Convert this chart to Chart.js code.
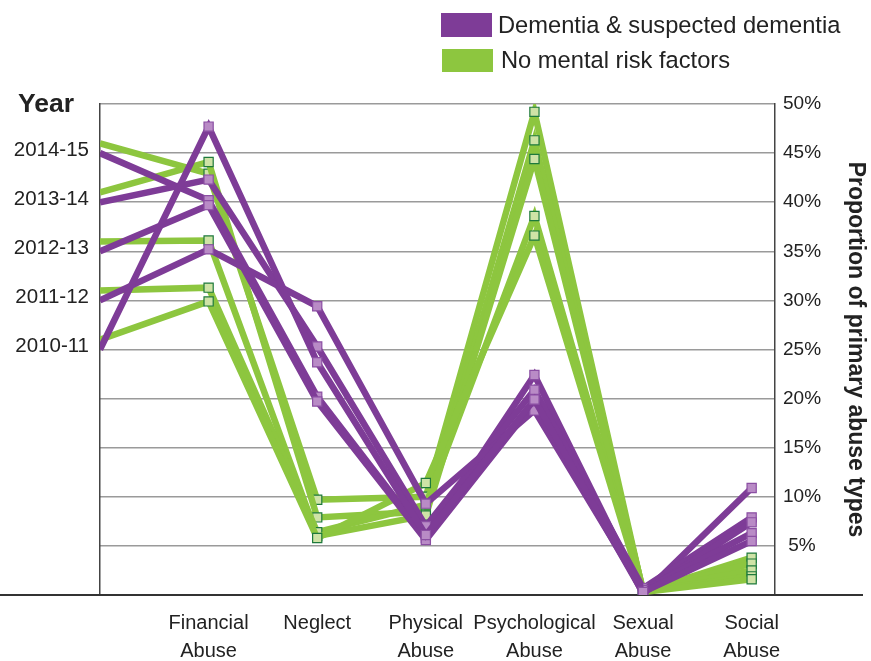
<!DOCTYPE html>
<html>
<head>
<meta charset="utf-8">
<script src="https://cdn.jsdelivr.net/npm/chart.js@4.4.1/dist/chart.umd.min.js"></script>
<style>
  body { margin: 0; background: #fff; font-family: 'Liberation Sans', Arial, sans-serif; }
  #wrap { position: relative; width: 871px; height: 661px; }
  #abuseChart { position: absolute; left: 0; top: 0; }
  .legend-box { position: absolute; width: 51px; height: 24px; }
  .legend-text { position: absolute; font-size: 23.7px; color: #222; line-height: 24px; white-space: nowrap; }
  #yearTitle { position: absolute; left: 18px; top: 88px; font-size: 26.5px; font-weight: bold; color: #222; line-height: 30px; }
</style>
</head>
<body>
<div id="wrap">
  <canvas id="abuseChart" width="871" height="661"></canvas>
  <div class="legend-box" style="left:441px;top:13px;background:#7e3c97;"></div>
  <div class="legend-text" style="left:498px;top:13px;">Dementia &amp; suspected dementia</div>
  <div class="legend-box" style="left:442px;top:49px;height:23px;background:#8dc63f;"></div>
  <div class="legend-text" style="left:501px;top:48px;">No mental risk factors</div>
  <div id="yearTitle">Year</div>
</div>
<script>
const abuseTypes = ['Financial Abuse', 'Neglect', 'Physical Abuse', 'Psychological Abuse', 'Sexual Abuse', 'Social Abuse'];
const years = ['2010-11', '2011-12', '2012-13', '2013-14', '2014-15'];
const yearTicks = [25, 30, 35, 40, 45];

// where each year's line leaves the Year axis
const dementiaYearStart = [25, 30, 35, 40, 45];
const noRiskYearStart = [26, 31, 36, 41, 46];

// proportion (%) per abuse type, one row per year
const dementiaValues = [
  [47.7, 23.7, 6.1, 19.9, 0.3, 5.5],
  [35.2, 29.4, 9.3, 18.8, 0.5, 6.3],
  [39.7, 19.7, 5.6, 19.6, 0.2, 7.4],
  [42.3, 25.3, 7.0, 20.9, 0.7, 7.9],
  [40.2, 20.2, 5.8, 22.4, 0.1, 10.9]
];
const noRiskValues = [
  [29.9, 5.8, 11.4, 36.6, 0.3, 1.6],
  [31.3, 6.4, 9.2, 38.6, 0.4, 1.9],
  [36.1, 6.0, 8.1, 44.4, 0.5, 2.5],
  [44.1, 7.9, 8.5, 46.3, 0.4, 3.2],
  [42.9, 9.7, 10.0, 49.2, 0.3, 3.8]
];

const purple = '#7e3c97';
const green = '#8dc63f';

function makeDataset(start, values, color, pointFill, pointBorder, order) {
  return {
    data: [start].concat(values).map((v, i) => ({ x: i, y: v })),
    borderColor: color,
    borderWidth: 6.5,
    tension: 0,
    pointStyle: 'rect',
    pointRadius: ctx => ctx.dataIndex === 0 ? 0 : 6.5,
    pointBackgroundColor: pointFill,
    pointBorderColor: pointBorder,
    pointBorderWidth: 1.2,
    order: order,
    yAxisID: 'y'
  };
}

let datasets = [];
years.forEach((yr, i) => {
  datasets.push(makeDataset(dementiaYearStart[i], dementiaValues[i], purple, '#b98bc6', '#8b4fa3', 1));
});
years.forEach((yr, i) => {
  datasets.push(makeDataset(noRiskYearStart[i], noRiskValues[i], green, '#cfe3a6', '#1e7a3c', 2));
});

const baseline = {
  id: 'baseline',
  beforeDatasetsDraw(chart) {
    const ctx = chart.ctx;
    const y0 = chart.scales.y.getPixelForValue(0);
    ctx.save();
    ctx.strokeStyle = '#333';
    ctx.lineWidth = 2;
    ctx.beginPath();
    ctx.moveTo(0, y0);
    ctx.lineTo(863, y0);
    ctx.stroke();
    ctx.restore();
  }
};

var ctx = document.getElementById('abuseChart').getContext('2d');
var myChart = new Chart(ctx, {
  type: 'line',
  data: { datasets: datasets },
  plugins: [baseline],
  options: {
    responsive: false,
    animation: false,
    layout: { padding: { top: 104, left: 0, right: 0, bottom: 0 } },
    plugins: {
      legend: { display: false },
      tooltip: { enabled: false }
    },
    scales: {
      x: {
        type: 'linear',
        min: 0,
        max: 6.215,
        afterBuildTicks: axis => { axis.ticks = abuseTypes.map((t, i) => ({ value: i + 1 })); },
        afterFit: axis => { axis.height = 66; },
        grid: { display: false, drawTicks: false },
        border: { display: false },
        ticks: {
          autoSkip: false,
          maxRotation: 0,
          padding: 14,
          color: '#222',
          font: { family: 'Liberation Sans', size: 20, lineHeight: 1.4 },
          callback: v => abuseTypes[v - 1] ? abuseTypes[v - 1].split(' ') : ''
        }
      },
      yYear: {
        position: 'left',
        min: 0,
        max: 50,
        afterBuildTicks: axis => { axis.ticks = yearTicks.map(v => ({ value: v + 0.3 })); },
        afterFit: axis => { axis.width = 100; },
        grid: { display: false, drawTicks: false },
        border: { display: true, color: '#444', width: 1.5 },
        ticks: {
          padding: 11,
          color: '#222',
          font: { family: 'Liberation Sans', size: 20.5 },
          callback: v => years[yearTicks.indexOf(Math.round(v))]
        }
      },
      y: {
        position: 'right',
        min: 0,
        max: 50,
        afterFit: axis => { axis.width = 96; },
        grid: { color: '#9a9a9a', lineWidth: 1.5, drawTicks: false },
        border: { display: true, color: '#444', width: 1.5 },
        ticks: {
          stepSize: 5,
          padding: 8,
          crossAlign: 'center',
          color: '#222',
          font: { family: 'Liberation Sans', size: 19 },
          callback: v => v === 0 ? '' : v + '%'
        },
        title: {
          display: true,
          text: 'Proportion of primary abuse types',
          color: '#222',
          padding: { top: 2, bottom: 0 },
          font: { family: 'Liberation Sans', size: 23, weight: 'bold' }
        }
      }
    }
  }
});
</script>
</body>
</html>
